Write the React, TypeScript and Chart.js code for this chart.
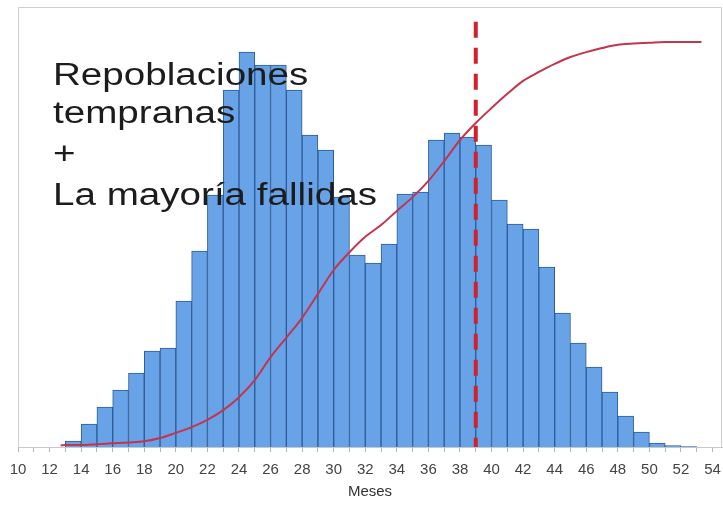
import React, { useEffect, useRef } from "react";
import { Chart, registerables } from "chart.js";

Chart.register(...registerables);

// Histogram bins (left edge of each 1-month bin) and their heights
const binStarts = [
  13, 14, 15, 16, 17, 18, 19, 20, 21, 22, 23, 24, 25, 26, 27, 28, 29, 30, 31, 32,
  33, 34, 35, 36, 37, 38, 39, 40, 41, 42, 43, 44, 45, 46, 47, 48, 49, 50, 51, 52,
];
const counts = [
  6, 23, 40, 57, 74, 96, 99, 146, 196, 252, 357, 395, 382, 382, 357, 312, 297, 250, 192, 184,
  203, 253, 255, 307, 314, 310, 302, 247, 223, 218, 180, 134, 104, 80, 55, 31, 15, 4, 1.5, 0.5,
];

// Cumulative curve (fraction of total)
const curveMonths = [
  12.7, 13, 14, 15, 16, 17, 18, 19, 20, 21, 22, 23, 24, 25, 26, 27, 28, 29, 30, 31, 32, 33,
  34, 35, 36, 37, 38, 39, 40, 41, 42, 43, 44, 45, 46, 47, 48, 49, 50, 51, 52, 53, 53.3,
];
const curveCumulative = [
  0.004, 0.005, 0.005, 0.007, 0.009, 0.011, 0.014, 0.022, 0.035, 0.049, 0.067, 0.091, 0.123,
  0.165, 0.222, 0.27, 0.319, 0.378, 0.437, 0.481, 0.519, 0.548, 0.583, 0.617, 0.657, 0.706,
  0.758, 0.8, 0.837, 0.872, 0.904, 0.926, 0.946, 0.963, 0.975, 0.985, 0.993, 0.996, 0.998,
  1.0, 1.0, 1.0, 1.0,
];

// Vertical dashed reference line (drawn top to bottom)
const refLineMonths = [39, 39];
const refLineLevels = [1.05, 0];

const xMin = 10;
const xMax = 54.6;
const countMax = 440;
const cumulativeMax = 1.0864;

const overlayLines = ["Repoblaciones", "tempranas", "+", "La mayoría fallidas"];
const xAxisTitle = "Meses";

const FONT = '"Liberation Sans", Arial, sans-serif';

const framePlugin = {
  id: "frame",
  beforeDatasetsDraw(chart: any) {
    const { ctx, chartArea } = chart;
    ctx.save();
    ctx.strokeStyle = "#cfcfcf";
    ctx.lineWidth = 1;
    ctx.beginPath();
    ctx.moveTo(chartArea.left + 0.5, chartArea.bottom);
    ctx.lineTo(chartArea.left + 0.5, chartArea.top + 0.5);
    ctx.lineTo(chartArea.right - 0.5, chartArea.top + 0.5);
    ctx.lineTo(chartArea.right - 0.5, chartArea.bottom);
    ctx.stroke();
    ctx.restore();
  },
};

const overlayPlugin = {
  id: "overlayText",
  afterDatasetsDraw(chart: any) {
    const { ctx, chartArea } = chart;
    ctx.save();
    ctx.font = `31px ${FONT}`;
    ctx.fillStyle = "#1c1c1c";
    ctx.textBaseline = "alphabetic";
    ctx.textAlign = "left";
    ctx.translate(chartArea.left + 35, chartArea.top);
    ctx.scale(1.245, 1);
    const baselines = [78, 116, 157, 198];
    overlayLines.forEach((line, i) => ctx.fillText(line, 0, baselines[i]));
    ctx.restore();
  },
};

export default function App() {
  const canvasRef = useRef<HTMLCanvasElement | null>(null);

  useEffect(() => {
    document.body.style.margin = "0";
    const canvas = canvasRef.current;
    if (!canvas) return;

    const barData = binStarts.map((b, i) => ({ x: b + 0.5, y: counts[i] }));
    const curveData = curveMonths.map((m, i) => ({ x: m, y: curveCumulative[i] }));
    const refData = refLineMonths.map((m, i) => ({ x: m, y: refLineLevels[i] }));

    const chart = new Chart(canvas, {
      type: "bar",
      data: {
        datasets: [
          {
            type: "line",
            data: curveData,
            yAxisID: "y2",
            borderColor: "#c4344c",
            borderWidth: 2,
            pointRadius: 0,
            fill: false,
            cubicInterpolationMode: "monotone",
            order: 1,
          } as any,
          {
            type: "line",
            data: refData,
            yAxisID: "y2",
            borderColor: "#d2202c",
            borderWidth: 4,
            borderDash: [16, 10],
            pointRadius: 0,
            fill: false,
            order: 2,
          } as any,
          {
            type: "bar",
            data: barData,
            yAxisID: "y",
            backgroundColor: "#67a3e6",
            borderColor: "#2d5c99",
            borderWidth: 1,
            barPercentage: 1,
            categoryPercentage: 1,
            order: 3,
          } as any,
        ],
      },
      options: {
        responsive: false,
        maintainAspectRatio: false,
        animation: false,
        layout: { padding: { left: 18, right: 1, top: 7, bottom: 0 } },
        plugins: {
          legend: { display: false },
          tooltip: { enabled: false },
        },
        scales: {
          x: {
            type: "linear",
            min: xMin,
            max: xMax,
            offset: false,
            grid: {
              display: true,
              drawOnChartArea: false,
              drawTicks: true,
              tickLength: 5,
              color: "#b5b5b5",
              offset: false,
            },
            border: { display: true, color: "#c8c8c8", width: 1 },
            ticks: {
              stepSize: 1,
              autoSkip: false,
              maxRotation: 0,
              includeBounds: false,
              padding: 9,
              color: "#444",
              font: { size: 15, family: FONT },
              callback: (v: any) => (Number(v) % 2 === 0 ? String(v) : ""),
            },
            title: {
              display: true,
              text: xAxisTitle,
              color: "#333",
              font: { size: 15, family: FONT },
              padding: { top: 4, bottom: 12 },
            },
            afterFit: (axis: any) => {
              axis.height = 66;
              axis.paddingLeft = 0;
              axis.paddingRight = 0;
            },
          },
          y: { display: false, min: 0, max: countMax },
          y2: { display: false, min: 0, max: cumulativeMax, position: "right" },
        },
      } as any,
      plugins: [framePlugin, overlayPlugin],
    });

    return () => chart.destroy();
  }, []);

  return (
    <div style={{ width: 723, height: 513, background: "#fff" }}>
      <canvas ref={canvasRef} width={723} height={513} style={{ display: "block" }} />
    </div>
  );
}
